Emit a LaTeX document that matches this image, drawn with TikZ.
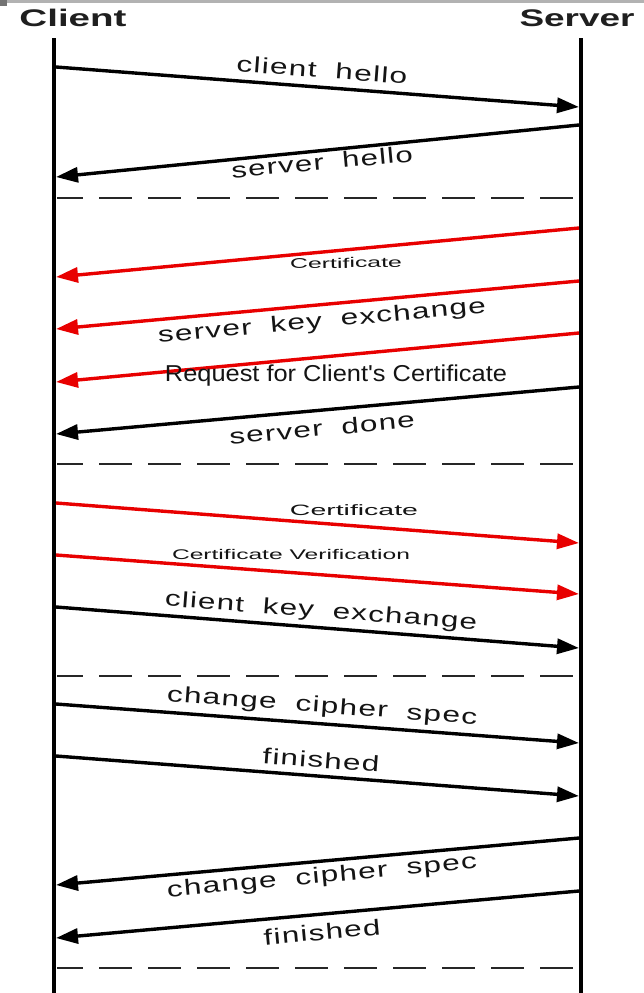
\documentclass[tikz,border=0pt]{standalone}
\usepackage{fontspec}
\setmainfont{Liberation Sans}
\newfontfamily\wfont[LetterSpace=4]{Liberation Sans}
\newfontfamily\nfont{Liberation Sans}
\usetikzlibrary{arrows.meta}
\newcommand\lab[3]{\resizebox{#1}{\height}{\fontsize{#2}{#2}\selectfont #3}}
\newcommand\ws{\hspace{0.6em}}
\tikzset{
  life/.style={line width=4.2pt, black},
  msg/.style={line width=3.4pt, black, -{Triangle[length=22pt,width=15pt]}},
  redmsg/.style={msg, color={rgb,255:red,232;green,0;blue,0}},
  sepline/.style={line width=2.8pt, black!85, dash pattern=on 33pt off 16pt, dash phase=7pt},
  lbl/.style={inner sep=0pt, text=black!92},
  head/.style={inner sep=0pt, font=\bfseries\fontsize{24}{24}\selectfont, text=black!88}
}
\begin{document}
\begin{tikzpicture}[x=1pt,y=-1pt]
\useasboundingbox (0,0) rectangle (644,993);
\fill[white] (0,0) rectangle (644,993);
% top strip
\fill[black!30] (0,0) rectangle (644,3);
\fill[black!55] (0,0) rectangle (7,6);

% headers
\node[head] (client) at (73,18) {\resizebox{107pt}{\height}{Client}};
\node[head] (server) at (577,18) {\resizebox{115pt}{\height}{Server}};

% lifelines
\coordinate (ct) at (54,38);
\coordinate (cb) at (54,993);
\coordinate (st) at (581,38);
\coordinate (sb) at (581,993);
\draw[life] (ct) -- (cb);
\draw[life] (st) -- (sb);

% separators
\foreach \y/\n in {198/a,464/b,676/c,968/d}{
  \coordinate (sl\n) at (57,\y);
  \coordinate (sr\n) at (577,\y);
  \draw[sepline] (sl\n) -- (sr\n);
}

% messages
\coordinate (m1a) at (56,67);   \coordinate (m1b) at (579,107);
\coordinate (m2a) at (579,125); \coordinate (m2b) at (56,177);
\coordinate (m3a) at (579,228); \coordinate (m3b) at (56,277);
\coordinate (m4a) at (579,281); \coordinate (m4b) at (56,329);
\coordinate (m5a) at (579,333); \coordinate (m5b) at (56,382);
\coordinate (m6a) at (579,387); \coordinate (m6b) at (56,434);
\coordinate (m7a) at (56,503);  \coordinate (m7b) at (579,543);
\coordinate (m8a) at (56,555);  \coordinate (m8b) at (579,594);
\coordinate (m9a) at (56,607);  \coordinate (m9b) at (579,648);
\coordinate (m10a) at (56,704); \coordinate (m10b) at (579,743);
\coordinate (m11a) at (56,756); \coordinate (m11b) at (579,796);
\coordinate (m12a) at (579,838); \coordinate (m12b) at (56,885);
\coordinate (m13a) at (579,891); \coordinate (m13b) at (56,938);

\draw[msg] (m1a) -- (m1b);
\draw[msg] (m2a) -- (m2b);
\draw[redmsg] (m3a) -- (m3b);
\draw[redmsg] (m4a) -- (m4b);
\draw[redmsg] (m5a) -- (m5b);
\draw[msg] (m6a) -- (m6b);
\draw[redmsg] (m7a) -- (m7b);
\draw[redmsg] (m8a) -- (m8b);
\draw[msg] (m9a) -- (m9b);
\draw[msg] (m10a) -- (m10b);
\draw[msg] (m11a) -- (m11b);
\draw[msg] (m12a) -- (m12b);
\draw[msg] (m13a) -- (m13b);

% labels
\node[lbl, rotate=-4.3] (l1) at (322,70) {\lab{171pt}{22}{\wfont client\ws hello}};
\node[lbl, rotate=5.3] (l2) at (322,162) {\lab{182pt}{22}{\wfont server\ws hello}};
\node[lbl, rotate=1] (l3) at (346,263) {\lab{112pt}{14}{\nfont Certificate}};
\node[lbl, rotate=5.3] (l4) at (322,322) {\lab{329pt}{22}{\wfont server\ws key\ws exchange}};
\node[lbl] (l5) at (336,376) {\lab{342pt}{23}{\nfont Request for Client's Certificate}};
\node[lbl, rotate=5.3] (l6) at (322,428) {\lab{186pt}{22}{\wfont server\ws done}};
\node[lbl] (l7) at (354,510) {\lab{128pt}{15}{\nfont Certificate}};
\node[lbl] (l8) at (291,554) {\lab{238pt}{14}{\nfont Certificate Verification}};
\node[lbl, rotate=-4.3] (l9) at (321,612) {\lab{313pt}{22}{\wfont client\ws key\ws exchange}};
\node[lbl, rotate=-4.3] (l10) at (322,707) {\lab{311pt}{22}{\wfont change\ws cipher\ws spec}};
\node[lbl, rotate=-4.3] (l11) at (321,760) {\lab{117pt}{22}{\wfont finished}};
\node[lbl, rotate=5.3] (l12) at (322,877) {\lab{311pt}{22}{\wfont change\ws cipher\ws spec}};
\node[lbl, rotate=5.3] (l13) at (322,932) {\lab{117pt}{22}{\wfont finished}};
\end{tikzpicture}
\end{document}
